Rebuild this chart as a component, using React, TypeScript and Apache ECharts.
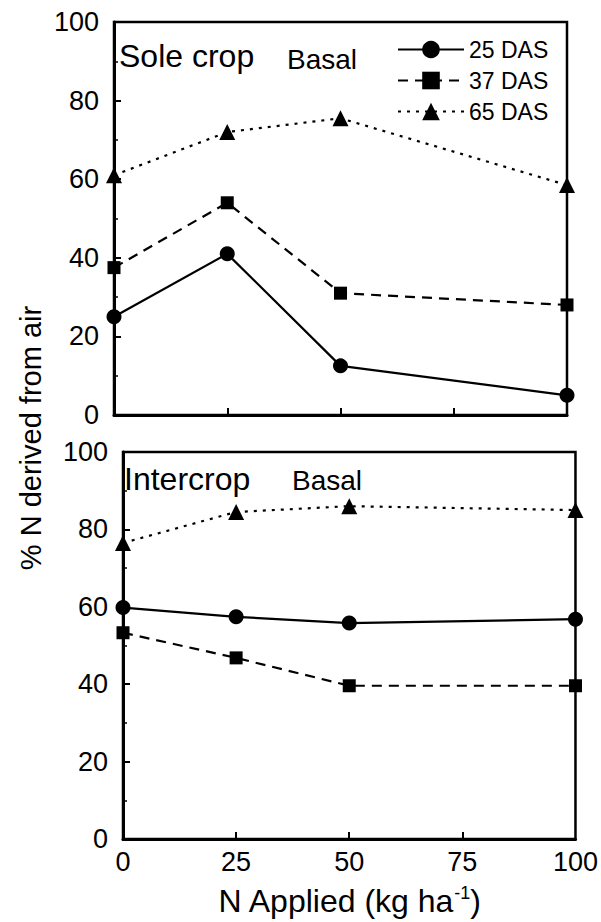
import React, { useEffect, useRef } from "react";
import * as echarts from "echarts";

const xValues = [0, 25, 50, 100];
const seriesNames = ["25 DAS", "37 DAS", "65 DAS"];
const soleDAS25 = [25, 41, 12.5, 5];
const soleDAS37 = [37.5, 54, 31, 28];
const soleDAS65 = [61, 72, 75.5, 58.5];
const interDAS25 = [59.8, 57.4, 55.8, 56.8];
const interDAS37 = [53.3, 46.8, 39.6, 39.6];
const interDAS65 = [76.5, 84.5, 86, 85];
const panelLabels = ["Sole crop", "Intercrop"];
const xTicks = [0, 25, 50, 75, 100];

const FONT = "'Liberation Sans', Arial, Helvetica, sans-serif";

const styles = [
  { symbol: "circle", symbolSize: 15, lineType: "solid" as any },
  { symbol: "rect", symbolSize: 13, lineType: [10, 7] as any },
  { symbol: "triangle", symbolSize: 16, lineType: [3, 6] as any },
];

export default function App() {
  const ref = useRef<HTMLDivElement>(null);
  useEffect(() => {
    if (!ref.current) return;
    const chart = echarts.init(ref.current, undefined, { renderer: "svg" });
    const pair = (vals: number[]) => xValues.map((x, i) => [x, vals[i]]);
    const panels = [
      [soleDAS25, soleDAS37, soleDAS65],
      [interDAS25, interDAS37, interDAS65],
    ];
    const series: any[] = [];
    panels.forEach((p, gi) => {
      p.forEach((vals, si) => {
        series.push({
          type: "line",
          name: seriesNames[si],
          xAxisIndex: gi,
          yAxisIndex: gi,
          data: pair(vals),
          symbol: styles[si].symbol,
          symbolSize: styles[si].symbolSize,
          itemStyle: { color: "#000" },
          lineStyle: { color: "#000", width: 2.2, type: styles[si].lineType },
          clip: false,
          z: 3,
        });
      });
    });
    const grids = [
      { left: 114, top: 22, width: 453, height: 393 },
      { left: 123, top: 452, width: 454, height: 387 },
    ].map((g) => ({ ...g, show: true, borderColor: "#000", borderWidth: 2.5, backgroundColor: "transparent" }));
    const xAxes: any[] = [];
    const yAxes: any[] = [];
    grids.forEach((g, gi) => {
      xAxes.push({
        type: "value",
        gridIndex: gi,
        min: 0,
        max: 100,
        interval: 25,
        axisLine: { show: true, onZero: false, lineStyle: { color: "#000", width: 3 } },
        axisTick: {
          show: true,
          inside: true,
          length: 7,
          lineStyle: { color: "#000", width: 2 },
          customValues: [25, 50, 75],
        },
        axisLabel: {
          show: gi === 1,
          color: "#000",
          fontSize: 27,
          fontFamily: FONT,
          margin: 9,
          customValues: xTicks,
        },
        splitLine: { show: false },
        name: gi === 1 ? "N Applied (kg ha{sup|-1})" : "",
        nameLocation: "middle",
        nameGap: 45,
        nameTextStyle: {
          color: "#000",
          fontSize: 32,
          fontFamily: FONT,
          rich: {
            sup: { fontSize: 18, verticalAlign: "top", padding: [0, 0, 15, 0], color: "#000", fontFamily: FONT },
          },
        },
      });
      yAxes.push({
        type: "value",
        gridIndex: gi,
        min: 0,
        max: 100,
        interval: 20,
        axisLine: { show: true, onZero: false, lineStyle: { color: "#000", width: 3 } },
        axisTick: { show: true, inside: true, length: 7, lineStyle: { color: "#000", width: 2 } },
        minorTick: { show: true, splitNumber: 2, length: 4, lineStyle: { color: "#000", width: 1.5 } },
        axisLabel: { color: "#000", fontSize: 27, fontFamily: FONT, margin: 15 },
        splitLine: { show: false },
      });
    });
    chart.setOption({
      animation: false,
      backgroundColor: "#fff",
      grid: grids,
      xAxis: xAxes,
      yAxis: yAxes,
      series,
      legend: {
        data: seriesNames,
        orient: "vertical",
        left: 392,
        top: 33,
        itemWidth: 66,
        itemHeight: 22,
        itemGap: 8,
        itemTextGap: 10,
        textStyle: { color: "#000", fontSize: 23, fontFamily: FONT },
      },
      graphic: [
        { type: "text", left: 119, top: 40, style: { text: panelLabels[0], fontSize: 32, fontFamily: FONT, fill: "#000" } },
        { type: "text", left: 287, top: 45, style: { text: "Basal", fontSize: 28, fontFamily: FONT, fill: "#000" } },
        { type: "text", left: 124, top: 463, style: { text: panelLabels[1], fontSize: 32, fontFamily: FONT, fill: "#000" } },
        { type: "text", left: 292, top: 466, style: { text: "Basal", fontSize: 28, fontFamily: FONT, fill: "#000" } },
        {
          type: "text",
          x: 31,
          y: 438,
          rotation: Math.PI / 2,
          style: {
            text: "% N derived from air",
            fontSize: 29,
            fontFamily: FONT,
            fill: "#000",
            textAlign: "center",
            textVerticalAlign: "middle",
          },
        },
      ],
    });
    return () => chart.dispose();
  }, []);
  return (
    <div
      ref={ref}
      style={{ position: "fixed", left: 0, top: 0, width: 601, height: 922, background: "#fff" }}
    />
  );
}
